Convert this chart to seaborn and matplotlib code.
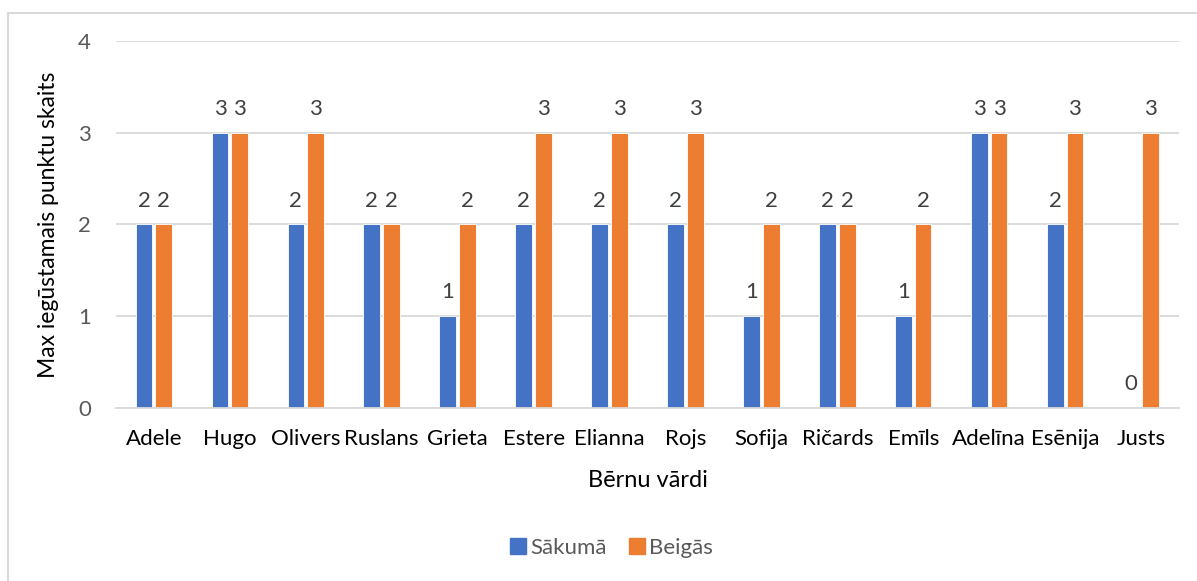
import matplotlib
matplotlib.use("Agg")
import matplotlib.pyplot as plt
from matplotlib.lines import Line2D
import seaborn as sns
import pandas as pd

# ── data ──
names = ["Adele", "Hugo", "Olivers", "Ruslans", "Grieta", "Estere", "Elianna",
         "Rojs", "Sofija", "Ričards", "Emīls", "Adelīna", "Esēnija", "Justs"]
sakuma = [2, 3, 2, 2, 1, 2, 2, 2, 1, 2, 1, 3, 2, 0]
beigas = [2, 3, 3, 2, 2, 3, 3, 3, 2, 2, 2, 3, 3, 3]
series = ["Sākumā", "Beigās"]
colors = ["#4472C4", "#ED7D31"]

df = pd.DataFrame({
    "name": names * 2,
    "value": sakuma + beigas,
    "series": [series[0]] * len(names) + [series[1]] * len(names),
})

sns.set_theme(style="white")
plt.rcParams["font.family"] = ["Lato", "DejaVu Sans"]

fig = plt.figure(figsize=(11.97, 5.81), dpi=100)
ax = fig.add_axes([0.0969, 0.2978, 0.888, 0.6316])

sns.barplot(data=df, x="name", y="value", hue="series", palette=colors,
            width=0.52, gap=0.15, ax=ax, legend=False, saturation=1,
            edgecolor="white", linewidth=0.6)

ax.set_ylim(0, 4)
ax.set_yticks([0, 1, 2, 3, 4])
ax.set_xlim(-0.5, len(names) - 0.5)
ax.grid(axis="y", color="#D9D9D9", linewidth=1.3)
ax.set_axisbelow(True)
for s in ["left", "right", "top"]:
    ax.spines[s].set_visible(False)
ax.spines["bottom"].set_color("#D9D9D9")
ax.spines["bottom"].set_linewidth(1.3)
ax.tick_params(axis="y", length=0, pad=18, labelsize=16, labelcolor="#595959")
ax.tick_params(axis="x", length=0, pad=15, labelsize=16, labelcolor="#000000")

ax.set_xlabel("Bērnu vārdi", fontsize=17, color="#000000", labelpad=15)
ax.set_ylabel("Max iegūstamais punktu skaits", fontsize=16.5, color="#000000", labelpad=14)

# data labels
for cont in ax.containers:
    for bar in cont:
        h = bar.get_height()
        ax.annotate(f"{int(h)}", (bar.get_x() + bar.get_width() / 2, h),
                    xytext=(0, 10), textcoords="offset points",
                    ha="center", va="bottom", fontsize=16, color="#404040")

handles = [plt.Rectangle((0, 0), 1, 1, color=c) for c in colors]
fig.legend(handles, series, loc="center", bbox_to_anchor=(0.511, 0.057), ncol=2,
           frameon=False, fontsize=16, handlelength=0.7, handleheight=0.7,
           handletextpad=0.2, columnspacing=1.0, labelcolor="#595959")

# outer chart border (only left and top visible in crop)
x0, y0 = 7.5 / 1197, 1 - 12.5 / 581
fig.add_artist(Line2D([x0, x0], [0, y0], color="#D9D9D9", linewidth=1.5))
fig.add_artist(Line2D([x0, 1], [y0, y0], color="#D9D9D9", linewidth=1.5))

fig.savefig("out.png", dpi=100, facecolor="white")
